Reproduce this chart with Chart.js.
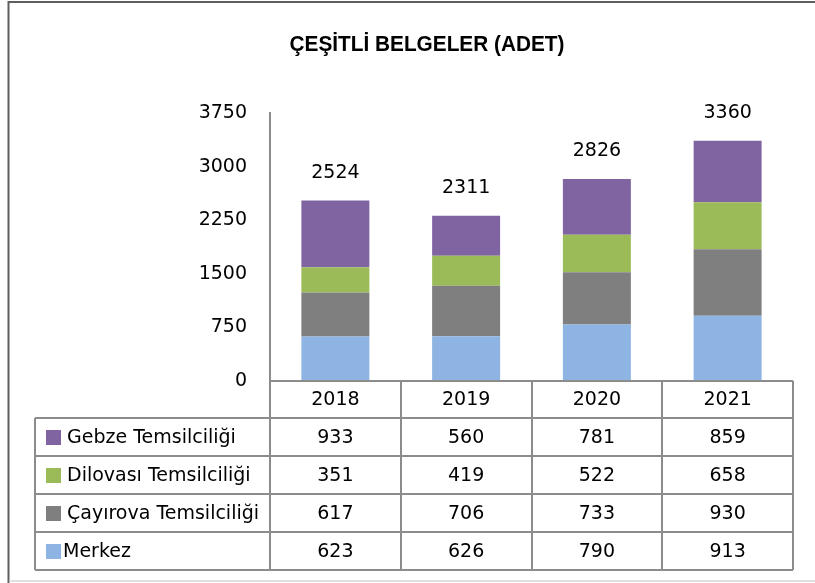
<!DOCTYPE html>
<html>
<head>
<meta charset="utf-8">
<script src="https://cdn.jsdelivr.net/npm/chart.js@4"></script>
<style>
  html, body { margin: 0; padding: 0; background: #fff; }
  #wrap { width: 815px; height: 583px; position: relative; }
</style>
</head>
<body>
<div id="wrap"><canvas id="c" width="815" height="583"></canvas></div>
<script>
// Yıllar (kategoriler)
const years = ['2018', '2019', '2020', '2021'];

// Birim bazında belge sayıları
const merkez   = [623, 626, 790, 913];
const cayirova = [617, 706, 733, 930];
const dilovasi = [351, 419, 522, 658];
const gebze    = [933, 560, 781, 859];

// Seri adları
const seriesNames = ['Merkez', 'Çayırova Temsilciliği', 'Dilovası Temsilciliği', 'Gebze Temsilciliği'];

// Y ekseni
const yMax = 3750;
const yStep = 750;

const titleText = 'ÇEŞİTLİ BELGELER (ADET)';

const colors = ['#8EB4E3', '#7F7F7F', '#9BBB59', '#8064A2'];
const seriesData = [merkez, cayirova, dilovasi, gebze];

const FONT = '"DejaVu Sans", sans-serif';

// Başlık, toplam etiketleri, veri tablosu ve çerçeve
const decorPlugin = {
  id: 'decor',
  afterDraw(chart) {
    const ctx = chart.ctx;
    const x = chart.scales.x;
    const y = chart.scales.y;
    const n = years.length;
    const colW = (x.right - x.left) / n;

    ctx.save();

    // Çerçeve
    ctx.strokeStyle = '#5f5f5f';
    ctx.lineWidth = 2;
    ctx.beginPath();
    ctx.moveTo(8.5, 583);
    ctx.lineTo(8.5, 2);
    ctx.lineTo(815, 2);
    ctx.stroke();
    ctx.strokeStyle = '#d4d4d4';
    ctx.lineWidth = 1.5;
    ctx.beginPath();
    ctx.moveTo(9, 581);
    ctx.lineTo(815, 581);
    ctx.stroke();

    // Başlık (dar kalın yazı)
    ctx.fillStyle = '#000';
    ctx.font = 'bold 22px "Liberation Sans", sans-serif';
    ctx.textAlign = 'center';
    ctx.textBaseline = 'middle';
    const tw = ctx.measureText(titleText).width;
    const sx = Math.min(1, 275 / tw);
    ctx.save();
    ctx.translate(427, 45);
    ctx.scale(sx, 1);
    ctx.fillText(titleText, 0, 0);
    ctx.restore();

    // Toplam etiketleri
    ctx.font = '19px ' + FONT;
    for (let i = 0; i < n; i++) {
      const total = seriesData.reduce((s, d) => s + d[i], 0);
      const py = y.getPixelForValue(total);
      ctx.fillText(String(total), x.getPixelForValue(i), py - 28);
    }

    // Veri tablosu
    const top = y.bottom;
    const headerH = 37;
    const rowH = 38;
    const legendLeft = 35;
    const rowsTop = top + headerH;
    const rowsBottom = rowsTop + rowH * seriesNames.length;

    ctx.strokeStyle = '#8c8c8c';
    ctx.lineWidth = 2;
    ctx.beginPath();
    ctx.moveTo(x.left, top); ctx.lineTo(x.right, top);
    for (let i = 0; i <= n; i++) {
      const cx = Math.round(x.left + i * colW);
      ctx.moveTo(cx, top); ctx.lineTo(cx, rowsBottom);
    }
    for (let r = 0; r <= seriesNames.length; r++) {
      const ry = Math.round(rowsTop + r * rowH);
      ctx.moveTo(legendLeft, ry); ctx.lineTo(x.right, ry);
    }
    ctx.moveTo(legendLeft, rowsTop); ctx.lineTo(legendLeft, rowsBottom);
    ctx.stroke();

    ctx.fillStyle = '#000';
    ctx.font = '19px ' + FONT;
    ctx.textAlign = 'center';
    for (let i = 0; i < n; i++) {
      ctx.fillText(years[i], x.getPixelForValue(i), top + headerH / 2 + 1);
    }

    // Satırlar: en üstteki seri önce
    for (let r = 0; r < seriesNames.length; r++) {
      const si = seriesNames.length - 1 - r;
      const cy = rowsTop + r * rowH + rowH / 2 + 1;
      ctx.fillStyle = colors[si];
      ctx.fillRect(46, cy - 8, 15, 15);
      ctx.fillStyle = '#000';
      ctx.textAlign = 'left';
      ctx.fillText(seriesNames[si], si === 0 ? 63 : 67, cy);
      ctx.textAlign = 'center';
      for (let i = 0; i < n; i++) {
        ctx.fillText(String(seriesData[si][i]), x.getPixelForValue(i), cy);
      }
    }

    ctx.restore();
  }
};

new Chart(document.getElementById('c'), {
  type: 'bar',
  data: {
    labels: years,
    datasets: seriesNames.map((name, i) => ({
      label: name,
      data: seriesData[i],
      backgroundColor: colors[i],
      borderWidth: 0,
      barPercentage: 0.52,
      categoryPercentage: 1
    }))
  },
  options: {
    responsive: false,
    animation: false,
    devicePixelRatio: 1,
    layout: { padding: { top: 113, bottom: 202, right: 22, left: 0 } },
    plugins: {
      legend: { display: false },
      title: { display: false },
      tooltip: { enabled: false }
    },
    scales: {
      x: {
        stacked: true,
        display: false
      },
      y: {
        stacked: true,
        min: 0,
        max: yMax,
        ticks: {
          stepSize: yStep,
          color: '#000',
          font: { family: FONT, size: 19 },
          padding: 23,
          callback: (v) => String(v)
        },
        grid: { display: false, drawTicks: false },
        border: { display: true, color: '#8c8c8c', width: 2 },
        afterFit(scale) { scale.width = 270; }
      }
    }
  },
  plugins: [decorPlugin]
});
</script>
</body>
</html>
